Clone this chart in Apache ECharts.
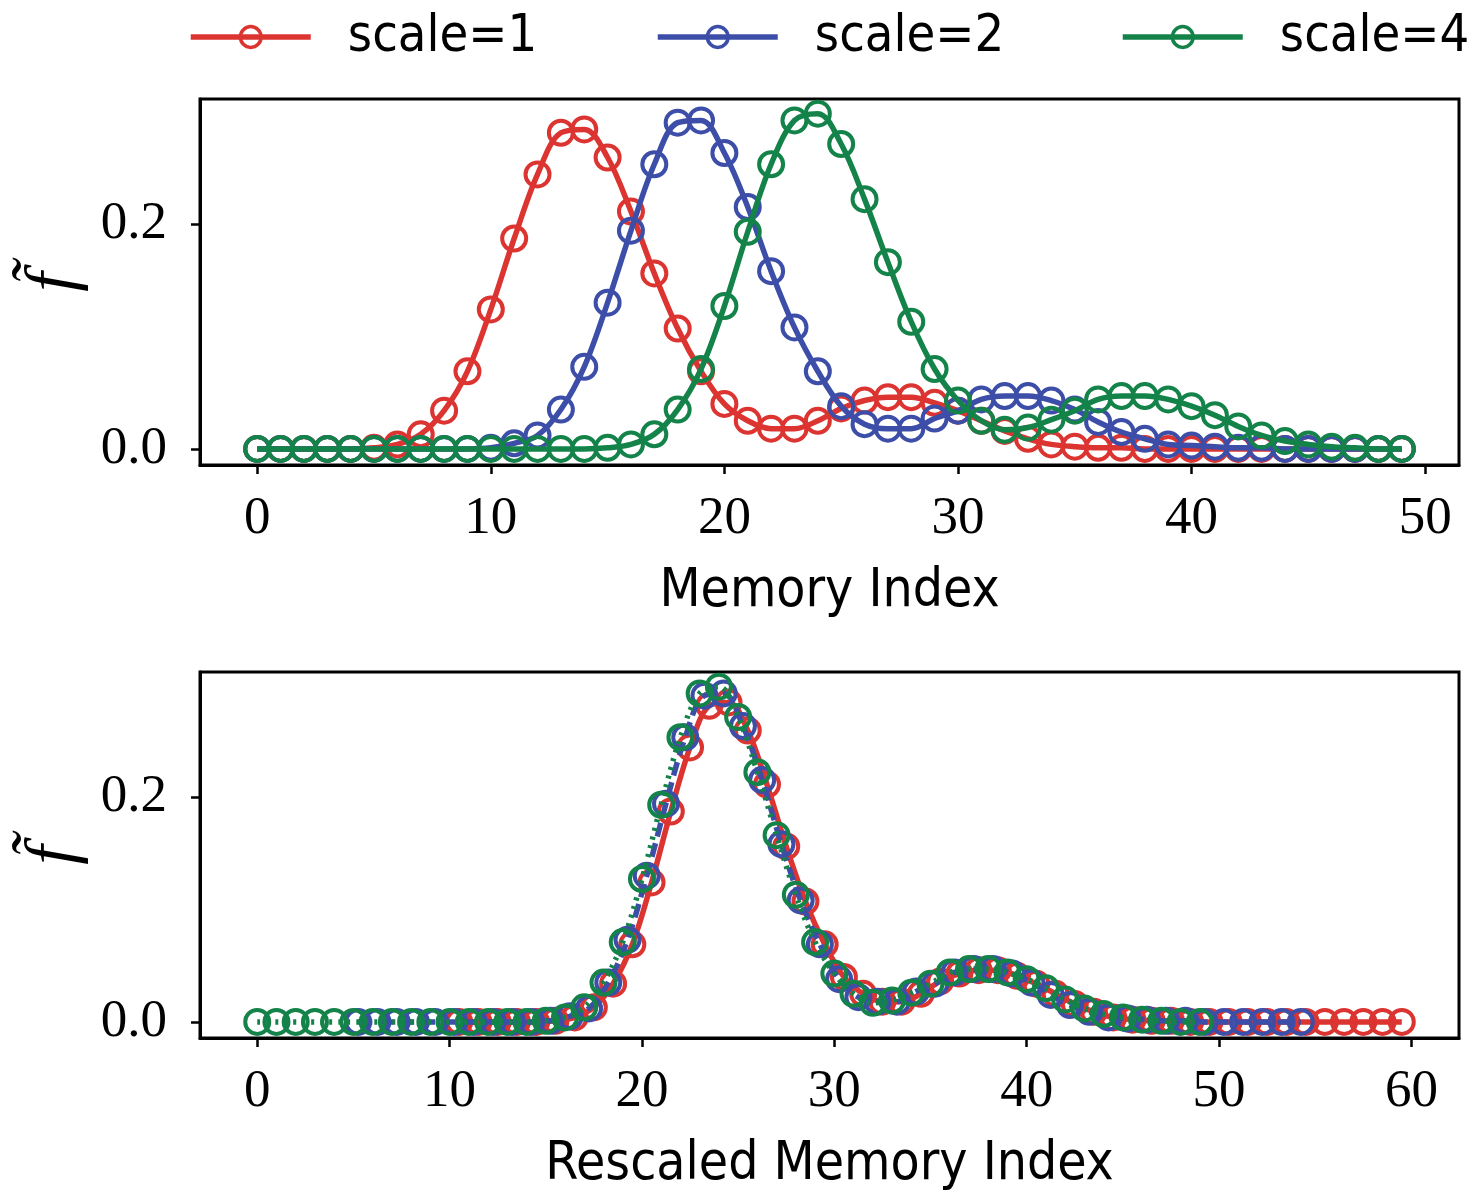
<!DOCTYPE html>
<html>
<head>
<meta charset="utf-8">
<script src="https://cdn.jsdelivr.net/npm/echarts@6/dist/echarts.min.js"></script>
<style>
html,body{margin:0;padding:0;background:#fff;}
#chart{width:1477px;height:1197px;}
</style>
</head>
<body>
<div id="chart"></div>
<script>
// ---- data ----
const seriesNames = ['scale=1', 'scale=2', 'scale=4'];
const memoryIndex = [0,1,2,3,4,5,6,7,8,9,10,11,12,13,14,15,16,17,18,19,20,21,22,23,24,25,26,27,28,29,30,31,32,33,34,35,36,37,38,39,40,41,42,43,44,45,46,47,48,49];
const scale1 = [0,0,0,0,0, 0.001,0.004,0.013,0.034,0.069, 0.124,0.187,0.244,0.281,0.284, 0.259,0.211,0.156,0.107,0.069, 0.040,0.025,0.018,0.018,0.025, 0.036,0.043,0.046,0.046,0.041, 0.034,0.025,0.016,0.009,0.004, 0.002,0.001,0.001,0,0, 0,0,0,0,0, 0,0,0,0,0];
const scale2 = [0,0,0,0,0, 0,0,0,0,0, 0.001,0.005,0.012,0.035,0.073, 0.130,0.194,0.253,0.290,0.292, 0.263,0.215,0.158,0.108,0.069, 0.038,0.022,0.018,0.018,0.027, 0.034,0.044,0.047,0.047,0.043, 0.035,0.024,0.015,0.009,0.004, 0.003,0.002,0.001,0.001,0, 0,0,0,0,0];
const scale4 = [0,0,0,0,0, 0,0,0,0,0, 0,0,0,0,0, 0.001,0.004,0.013,0.035,0.071, 0.127,0.193,0.253,0.292,0.298, 0.271,0.222,0.166,0.113,0.071, 0.043,0.025,0.017,0.019,0.026, 0.034,0.044,0.047,0.047,0.044, 0.038,0.030,0.020,0.012,0.007, 0.004,0.002,0.001,0,0];
// shift of each series on the rescaled axis
const rescaleShift = [10.5, 5.25, 0];
const xTicksTop = [0,10,20,30,40,50];
const xTicksBottom = [0,10,20,30,40,50,60];
const yTicks = [0, 0.2];

const colors = ['#dc3431', '#3d4ea8', '#14834a'];
const values = [scale1, scale2, scale4];
const bottomLineTypes = ['solid', [14, 7], [3, 6]];
const legendLeft = [183, 650, 1115];

const tickFont = 'Liberation Serif';
const sansFont = "'Liberation Sans Narrow', 'DejaVu Sans Condensed', 'Liberation Sans', sans-serif";

function xAxis(gridIndex, min, max, ticks, name) {
  return {
    type: 'value', gridIndex, min, max,
    name, nameLocation: 'middle', nameGap: 101,
    nameTextStyle: { fontFamily: sansFont, fontSize: 53, color: '#000' },
    axisLine: { show: true, onZero: false, lineStyle: { color: '#000', width: 3 } },
    axisTick: { show: true, length: 9, lineStyle: { color: '#000', width: 2.5 }, customValues: ticks },
    axisLabel: { customValues: ticks, margin: 28, fontFamily: tickFont, fontSize: 53, color: '#000' },
    splitLine: { show: false }
  };
}
function yAxis(gridIndex) {
  return {
    type: 'value', gridIndex, min: -0.0143, max: 0.311,
    name: 'f\u0303', nameLocation: 'middle', nameRotate: 90, nameGap: 92,
    nameTextStyle: { fontFamily: tickFont, fontStyle: 'italic', fontSize: 70, color: '#000' },
    axisLine: { show: true, onZero: false, lineStyle: { color: '#000', width: 3 } },
    axisTick: { show: true, length: 9, lineStyle: { color: '#000', width: 2.5 }, customValues: yTicks },
    axisLabel: { customValues: yTicks, margin: 33, fontFamily: tickFont, fontSize: 53, color: '#000',
      formatter: v => Number(v).toFixed(1) },
    splitLine: { show: false }
  };
}

const series = [];
for (let k = 0; k < 3; k++) {
  series.push({
    name: seriesNames[k], type: 'line', xAxisIndex: 0, yAxisIndex: 0,
    data: memoryIndex.map((x, i) => [x, values[k][i]]),
    smooth: 0.35, color: colors[k],
    symbol: 'circle', symbolSize: 24,
    itemStyle: { color: 'rgba(255,255,255,0)', borderColor: colors[k], borderWidth: 4 },
    lineStyle: { color: colors[k], width: 5.5 },
    emphasis: { disabled: true }, z: 2 + k
  });
}
for (let k = 0; k < 3; k++) {
  series.push({
    name: seriesNames[k], type: 'line', xAxisIndex: 1, yAxisIndex: 1,
    data: memoryIndex.map((x, i) => [x + rescaleShift[k], values[k][i]]),
    smooth: 0.35, color: colors[k],
    symbol: 'circle', symbolSize: 24,
    itemStyle: { color: 'rgba(255,255,255,0)', borderColor: colors[k], borderWidth: 4 },
    lineStyle: { color: colors[k], width: 5.5, type: bottomLineTypes[k] },
    emphasis: { disabled: true }, z: 2 + k
  });
}

const legends = seriesNames.map((nm, k) => ({
  data: [nm], left: legendLeft[k], top: 6,
  itemWidth: 120, itemHeight: 26, selectedMode: false,
  lineStyle: { width: 5.5, color: colors[k], type: 'solid' },
  itemStyle: { color: 'rgba(255,255,255,0)', borderColor: colors[k], borderWidth: 3.5 },
  textStyle: { fontFamily: sansFont, fontSize: 52, color: '#000', padding: [0, 0, 0, 32] }
}));

const chart = echarts.init(document.getElementById('chart'), null, { renderer: 'canvas' });
chart.setOption({
  backgroundColor: '#fff',
  animation: false,
  legend: legends,
  grid: [
    { left: 200, top: 99, width: 1259, height: 366, containLabel: false, show: true, borderColor: '#000', borderWidth: 3 },
    { left: 200, top: 672, width: 1259, height: 366, containLabel: false, show: true, borderColor: '#000', borderWidth: 3 }
  ],
  xAxis: [
    xAxis(0, -2.45, 51.45, xTicksTop, 'Memory Index'),
    xAxis(1, -2.975, 62.475, xTicksBottom, 'Rescaled Memory Index')
  ],
  yAxis: [yAxis(0), yAxis(1)],
  series
});
</script>
</body>
</html>
